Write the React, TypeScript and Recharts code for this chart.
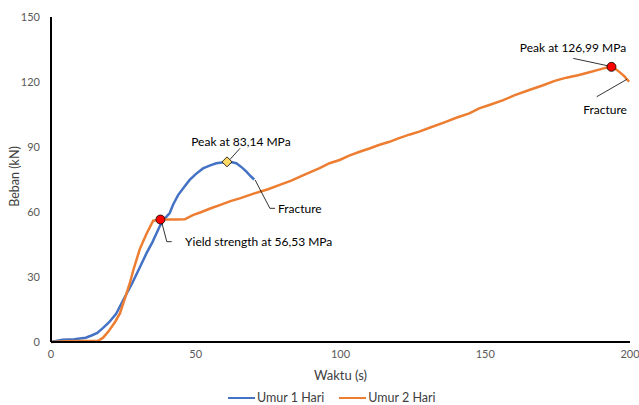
import { LineChart, Line, XAxis, YAxis, ReferenceDot, ReferenceLine, Label } from 'recharts';

// Umur 1 Hari (blue)
const day1Time = [0, 4, 8, 12, 14, 16, 18, 20, 22.5, 25, 28, 30.7, 33, 35, 37.6, 39, 41, 42.2, 43.9, 46, 47.9, 50, 52.5, 55, 57.1, 59, 60.8, 62.5, 64, 66, 67.5, 69, 70.2];
const day1Load = [0, 1, 1.3, 2, 3, 4.2, 6.5, 9, 13, 19.5, 27, 34.5, 41, 46, 53.5, 56.5, 59.5, 63.5, 67.8, 71.5, 74.8, 77.5, 80.1, 81.5, 82.5, 82.8, 83.14, 83, 82.5, 80.5, 78.6, 76.5, 75];

// Umur 2 Hari (orange)
const day2Time = [0, 5, 10, 16.3, 18, 19.8, 22, 23.8, 25.5, 27.2, 28.4, 30.7, 33, 35.3, 37.8, 40, 43, 46.2, 49, 52, 55, 58.3, 62, 65.2, 70, 75, 79, 83, 88, 92.8, 96.2, 99.7, 103, 106.6, 110, 113, 116.9, 120, 124, 127.2, 131, 135.9, 140, 144.5, 147.9, 151.4, 156, 160, 165.2, 170, 174, 178, 182.4, 186, 189, 191.5, 193.6, 195, 196.2, 198, 199.7];
const day2Load = [0, 0.3, 0.5, 0.6, 2, 4.8, 9, 13.2, 20, 27, 33, 43, 50, 56, 56.53, 56.5, 56.5, 56.6, 58.6, 60, 61.6, 63.2, 65, 66.3, 68.5, 70.5, 72.5, 74.5, 77.5, 80.2, 82.5, 84, 86, 87.8, 89.3, 90.8, 92.4, 94, 95.8, 97.1, 99, 101.4, 103.5, 105.5, 107.8, 109.4, 111.5, 113.8, 116.3, 118.5, 120.5, 122, 123.2, 124.5, 125.6, 126.5, 126.99, 126, 124.8, 122.7, 120.1];

const xTicks = [0, 50, 100, 150, 200];
const yTicks = [0, 30, 60, 90, 120, 150];

const day1 = day1Time.map((t, i) => ({ t, load: day1Load[i] }));
const day2 = day2Time.map((t, i) => ({ t, load: day2Load[i] }));

// annotation texts with anchor point in data units
const notes = [
  { x: 65.6, y: 92.6, text: 'Peak at 83,14 MPa', anchor: 'middle' },
  { x: 78.4, y: 61.7, text: 'Fracture', anchor: 'start' },
  { x: 46.3, y: 46.3, text: 'Yield strength at 56,53 MPa', anchor: 'start' },
  { x: 180.3, y: 136.0, text: 'Peak at 126,99 MPa', anchor: 'middle' },
  { x: 191.4, y: 107.1, text: 'Fracture', anchor: 'middle' },
];

// pointer line segments
const pointers = [
  [{ x: 65.3, y: 89.4 }, { x: 61.8, y: 84.2 }],
  [{ x: 70.5, y: 74.8 }, { x: 75.6, y: 61.7 }],
  [{ x: 75.6, y: 61.7 }, { x: 77.4, y: 61.7 }],
  [{ x: 38.2, y: 55.5 }, { x: 40.0, y: 46.3 }],
  [{ x: 40.0, y: 46.3 }, { x: 41.7, y: 46.3 }],
  [{ x: 180.4, y: 130.9 }, { x: 192.6, y: 127.4 }],
  [{ x: 198.9, y: 121.2 }, { x: 188.5, y: 113.2 }],
];

const font = 'Lato, "Open Sans", sans-serif';
const tickStyle = { fill: '#595959', fontSize: 11, fontFamily: font };

function Diamond({ cx, cy }: { cx?: number; cy?: number }) {
  if (cx == null || cy == null) return null;
  const s = 5;
  return (
    <polygon
      points={`${cx},${cy - s} ${cx + s},${cy} ${cx},${cy + s} ${cx - s},${cy}`}
      fill="#FFD966"
      stroke="#000"
      strokeWidth={0.8}
    />
  );
}

function YTitle({ viewBox }: any) {
  const cx = 14;
  const cy = viewBox.y + viewBox.height / 2 - 3;
  return (
    <text x={cx} y={cy} transform={`rotate(-90 ${cx} ${cy})`} textAnchor="middle" dominantBaseline="central" fill="#404040" fontSize={12.5} fontFamily={font}>
      Beban (kN)
    </text>
  );
}

export default function App() {
  return (
    <div style={{ position: 'absolute', left: 0, top: 0, width: 639, height: 405, background: '#fff', fontFamily: font, overflow: 'hidden' }}>
      <LineChart width={639} height={388} margin={{ top: 17, right: 9, bottom: 0, left: 0 }}>
        <XAxis
          type="number"
          dataKey="t"
          domain={[0, 200]}
          ticks={xTicks}
          tickLine={false}
          axisLine={{ stroke: '#000', strokeWidth: 2 }}
          tick={tickStyle}
          height={46}
          allowDuplicatedCategory={false}
        >
          <Label value="Waktu (s)" position="insideTop" offset={29} fill="#404040" fontSize={13} fontFamily={font} />
        </XAxis>
        <YAxis
          type="number"
          domain={[0, 150]}
          ticks={yTicks}
          tickLine={false}
          axisLine={{ stroke: '#000', strokeWidth: 2 }}
          tick={tickStyle}
          width={51}
          tickMargin={5}
        >
          <Label content={<YTitle />} />
        </YAxis>
        <Line data={day1} dataKey="load" type="linear" stroke="#4472C4" strokeWidth={2.5} dot={false} isAnimationActive={false} name="Umur 1 Hari" />
        <Line data={day2} dataKey="load" type="linear" stroke="#ED7D31" strokeWidth={2.5} dot={false} isAnimationActive={false} name="Umur 2 Hari" />
        {pointers.map((seg, i) => (
          <ReferenceLine key={i} segment={seg} stroke="#000" strokeWidth={0.8} ifOverflow="visible" />
        ))}
        <ReferenceDot x={37.8} y={56.53} r={4.5} fill="#FF0000" stroke="#000" strokeWidth={0.8} ifOverflow="visible" />
        <ReferenceDot x={60.8} y={83.14} shape={<Diamond />} ifOverflow="visible" />
        <ReferenceDot x={193.6} y={126.99} r={4.5} fill="#FF0000" stroke="#000" strokeWidth={0.8} ifOverflow="visible" />
        {notes.map((n, i) => (
          <ReferenceDot
            key={`n${i}`}
            x={n.x}
            y={n.y}
            ifOverflow="visible"
            shape={(p: any) => (
              <text x={p.cx} y={p.cy} textAnchor={n.anchor} dominantBaseline="central" fill="#000" fontSize={12} fontFamily={font}>
                {n.text}
              </text>
            )}
          />
        ))}
      </LineChart>
      <div style={{ position: 'absolute', top: 391, left: 228, display: 'flex', gap: 15, fontSize: 12.5, color: '#404040', lineHeight: '14px' }}>
        <div style={{ display: 'flex', alignItems: 'center', gap: 2 }}>
          <div style={{ width: 27, height: 2.5, background: '#4472C4' }} />
          <span>Umur 1 Hari</span>
        </div>
        <div style={{ display: 'flex', alignItems: 'center', gap: 2 }}>
          <div style={{ width: 27, height: 2.5, background: '#ED7D31' }} />
          <span>Umur 2 Hari</span>
        </div>
      </div>
    </div>
  );
}
